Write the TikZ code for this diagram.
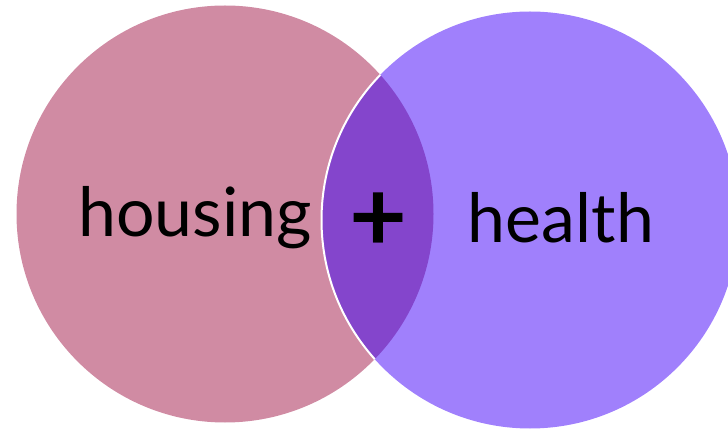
\documentclass[tikz,border=0pt]{standalone}
\usepackage{fontspec}
\setmainfont{Lato}
\definecolor{housingpink}{RGB}{208,139,163}
\definecolor{healthviolet}{RGB}{160,128,252}
\definecolor{overlapviolet}{RGB}{132,69,204}

\begin{document}
\begin{tikzpicture}[
	x=1pt, y=-1pt,
	setcircle/.style={ circle, inner sep=0pt, minimum size=417pt },
	setlabel/.style={ anchor=base, inner sep=0pt, font=\fontsize{68}{80}\selectfont },
	pluslabel/.style={ inner sep=0pt, font=\fontsize{100}{110}\selectfont\bfseries }
]
\useasboundingbox (0,0) rectangle (728,430);

% the two sets
\node[setcircle, fill=housingpink] at (225,214) (housing) {};
\node[setcircle, fill=healthviolet] at (530,220) (health) {};

% overlap
\begin{scope}
\clip (housing.center) circle (208.5);
\fill[overlapviolet] (health.center) circle (208.5);
\draw[white, line width=2pt] (health.center) circle (208.5);
\end{scope}

\node[setlabel] at (195,237) (housingtext) {housing};
\node[setlabel] at (561,243) (healthtext) {health};
\node[pluslabel] at (378,222) (plus) {+};

\end{tikzpicture}
\end{document}
